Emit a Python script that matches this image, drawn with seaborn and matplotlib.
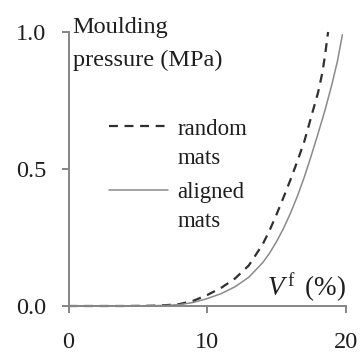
import pandas as pd
import matplotlib
matplotlib.use("Agg")
import matplotlib.pyplot as plt
import seaborn as sns

# fibre volume fraction (%) vs moulding pressure (MPa)
random_vf = [0, 2, 4, 6, 7, 8, 9, 10, 11, 12, 13, 14, 14.5, 15, 15.5, 16, 16.5,
             17, 17.5, 18, 18.3, 18.5, 18.72]
random_p = [0, 0, 0, 0.001, 0.003, 0.007, 0.019, 0.04, 0.066, 0.1, 0.148, 0.225,
            0.276, 0.334, 0.396, 0.46, 0.528, 0.6, 0.69, 0.78, 0.85, 0.915, 1.0]

aligned_vf = [0, 2, 4, 6, 7, 8, 9, 10, 11, 12, 13, 14, 14.5, 15, 15.5, 16, 16.5,
              17, 17.5, 18, 18.5, 19, 19.4, 19.75]
aligned_p = [0, 0, 0, 0.001, 0.002, 0.005, 0.013, 0.027, 0.045, 0.07, 0.105, 0.158,
             0.193, 0.235, 0.283, 0.338, 0.4, 0.47, 0.548, 0.63, 0.715, 0.81,
             0.895, 0.99]

x_ticks = [0, 10, 20]
y_ticks = [0.0, 0.5, 1.0]
y_tick_labels = ["0.0", "0.5", "1.0"]

df_random = pd.DataFrame({"vf": random_vf, "p": random_p})
df_aligned = pd.DataFrame({"vf": aligned_vf, "p": aligned_p})

sns.set_theme(style="ticks")
plt.rcParams["font.family"] = ["Liberation Serif", "DejaVu Serif"]
plt.rcParams["mathtext.fontset"] = "custom"
plt.rcParams["mathtext.rm"] = "Liberation Serif"
plt.rcParams["mathtext.it"] = "Liberation Serif:italic"

axis_grey = "#858585"
text_col = "#1e1e1e"

fig = plt.figure(figsize=(3.61, 3.54), dpi=100)
ax = fig.add_axes([0.190, 0.1356, 0.768, 0.774])

sns.lineplot(data=df_random, x="vf", y="p", ax=ax, color="#303030",
             linewidth=1.6, label="random\nmats")
ax.lines[-1].set_dashes((4.0, 3.0))
sns.lineplot(data=df_aligned, x="vf", y="p", ax=ax, color="#8a8a8a",
             linewidth=1.1, label="aligned\nmats")
for ln in ax.lines:
    ln.set_clip_on(False)

ax.set_xlim(0, 20)
ax.set_ylim(0, 1)
ax.set_xticks(x_ticks)
ax.set_yticks(y_ticks)
ax.set_yticklabels(y_tick_labels)
ax.set_xlabel("")
ax.set_ylabel("")

sns.despine(ax=ax)
for side in ["left", "bottom"]:
    ax.spines[side].set_color(axis_grey)
    ax.spines[side].set_linewidth(1.4)
ax.tick_params(axis="both", direction="out", length=5, width=1.4,
               color=axis_grey, labelsize=17.5, labelcolor=text_col)
ax.tick_params(axis="x", pad=14)
ax.tick_params(axis="y", pad=11)

ax.text(0.015, 1.054, "Moulding\npressure (MPa)", transform=ax.transAxes,
        ha="left", va="top", fontsize=17.5, color=text_col, linespacing=1.7)
ax.text(20.0, 0.066, r"$V^{\,\mathrm{f}}\,$ (%)", ha="right", va="center",
        fontsize=19.5, color=text_col)

leg = ax.legend(loc="upper left", bbox_to_anchor=(0.145, 0.684), frameon=False,
                fontsize=16.5, handlelength=2.6, handletextpad=0.4,
                labelspacing=0.6, borderpad=0, borderaxespad=0)
for t in leg.get_texts():
    t.set_color(text_col)
    t.set_linespacing(1.5)
# put each key level with the first line of its two-line label
for h in leg.legend_handles:
    h.set_ydata([v + 12.3 for v in h.get_ydata()])

fig.savefig("out.png", dpi=100)
